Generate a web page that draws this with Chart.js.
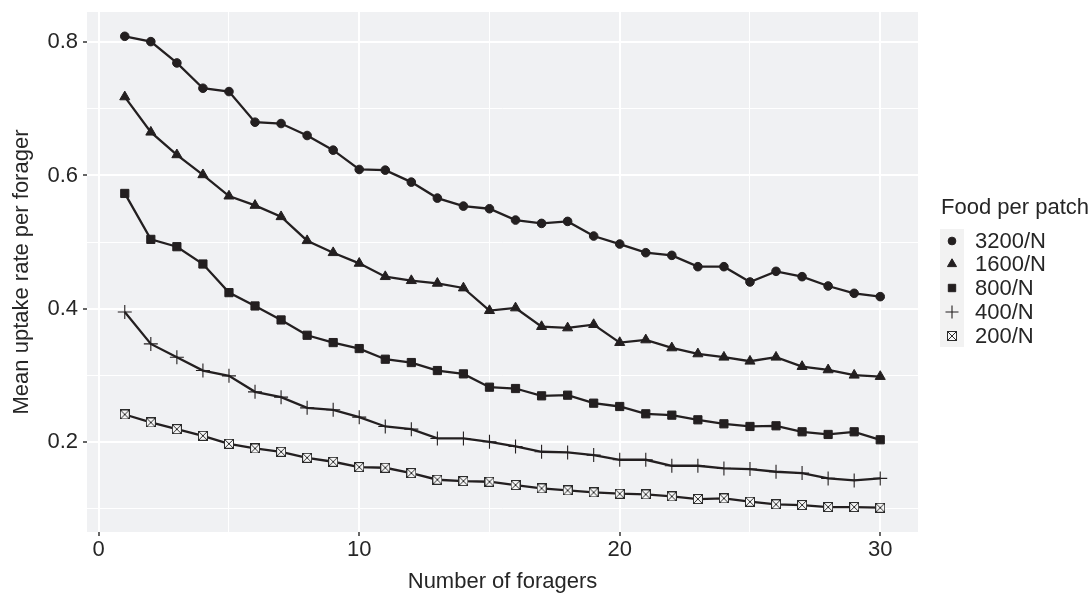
<!DOCTYPE html>
<html>
<head>
<meta charset="utf-8">
<script src="https://cdn.jsdelivr.net/npm/chart.js@4/dist/chart.umd.min.js"></script>
<style>
  html, body { margin: 0; padding: 0; background: #fff; }
  #wrap { width: 1089px; height: 595px; }
</style>
</head>
<body>
<div id="wrap"><canvas id="c" width="1089" height="595"></canvas></div>
<script>
// data
const foragers = [1, 2, 3, 4, 5, 6, 7, 8, 9, 10, 11, 12, 13, 14, 15,
  16, 17, 18, 19, 20, 21, 22, 23, 24, 25, 26, 27, 28, 29, 30];
const food3200 = [0.809, 0.801, 0.769, 0.731, 0.726, 0.680, 0.678, 0.660, 0.638, 0.609,
  0.608, 0.590, 0.566, 0.554, 0.550, 0.533, 0.528, 0.531, 0.509, 0.497,
  0.484, 0.480, 0.463, 0.463, 0.440, 0.456, 0.448, 0.434, 0.423, 0.418];
const food1600 = [0.718, 0.665, 0.631, 0.601, 0.569, 0.555, 0.538, 0.502, 0.484, 0.468,
  0.448, 0.442, 0.438, 0.431, 0.397, 0.401, 0.373, 0.371, 0.376, 0.349,
  0.353, 0.341, 0.332, 0.327, 0.321, 0.327, 0.313, 0.308, 0.300, 0.298];
const food800 = [0.573, 0.504, 0.493, 0.467, 0.424, 0.404, 0.383, 0.360, 0.349, 0.340,
  0.324, 0.319, 0.307, 0.302, 0.282, 0.280, 0.269, 0.270, 0.258, 0.253,
  0.242, 0.240, 0.233, 0.227, 0.223, 0.224, 0.215, 0.211, 0.215, 0.203];
const food400 = [0.395, 0.347, 0.327, 0.307, 0.299, 0.275, 0.267, 0.251, 0.248, 0.237,
  0.223, 0.219, 0.205, 0.205, 0.200, 0.193, 0.185, 0.184, 0.180, 0.173,
  0.173, 0.164, 0.164, 0.160, 0.159, 0.155, 0.153, 0.145, 0.142, 0.145];
const food200 = [0.241, 0.229, 0.219, 0.209, 0.197, 0.190, 0.185, 0.176, 0.170, 0.162,
  0.161, 0.153, 0.143, 0.141, 0.140, 0.135, 0.130, 0.127, 0.124, 0.122,
  0.121, 0.118, 0.114, 0.115, 0.110, 0.106, 0.105, 0.102, 0.102, 0.101];
const seriesLabels = ["3200/N", "1600/N", "800/N", "400/N", "200/N"];

const xTicks = [0, 5, 10, 15, 20, 25, 30];
const xMajor = [0, 10, 20, 30];
const yTicks = [0.1, 0.2, 0.3, 0.4, 0.5, 0.6, 0.7, 0.8];
const yMajor = [0.2, 0.4, 0.6, 0.8];

const ink = "#231f20", textCol = "#262626", panel = "#f0f1f3";
const FONT = "'Liberation Sans', Arial, sans-serif";

// ggplot shape 7: square with an X
function boxCross(size) {
  const c = document.createElement("canvas");
  c.width = c.height = size;
  const g = c.getContext("2d");
  const a = 0.5, b = size - 0.5;
  g.fillStyle = "#f7f7f7";
  g.fillRect(a, a, b - a, b - a);
  g.strokeStyle = "#2b2b2b";
  g.lineWidth = 1;
  g.strokeRect(a, a, b - a, b - a);
  g.beginPath();
  g.moveTo(a, a); g.lineTo(b, b);
  g.moveTo(b, a); g.lineTo(a, b);
  g.stroke();
  return c;
}
const boxImg = boxCross(10);

const styles = [
  { pointStyle: "circle", radius: 4.3, borderWidth: 1 },
  { pointStyle: "triangle", radius: 5.8, borderWidth: 1 },
  { pointStyle: "rect", radius: 5.8, borderWidth: 1 },
  { pointStyle: "cross", radius: 7, borderWidth: 1.1 },
  { pointStyle: boxImg, radius: 5, borderWidth: 1 },
];
const allSeries = [food3200, food1600, food800, food400, food200];

const datasets = allSeries.map((vals, i) => ({
  label: seriesLabels[i],
  data: foragers.map((f, j) => ({ x: f, y: vals[j] })),
  borderColor: ink,
  borderWidth: 2.3,
  backgroundColor: ink,
  pointStyle: styles[i].pointStyle,
  pointRadius: styles[i].radius,
  pointBorderWidth: styles[i].borderWidth,
  pointBackgroundColor: ink,
  pointBorderColor: ink,
  tension: 0,
}));

const isMajor = (list, v) => list.some((m) => Math.abs(m - v) < 1e-6);

const panelBg = {
  id: "panelBg",
  beforeDraw(chart) {
    const { ctx, chartArea: a } = chart;
    ctx.save();
    ctx.fillStyle = panel;
    ctx.fillRect(a.left, a.top, a.right - a.left, a.bottom - a.top);
    ctx.restore();
  },
};

// legend on the right, ggplot style
const sideLegend = {
  id: "sideLegend",
  afterDraw(chart) {
    const ctx = chart.ctx;
    ctx.save();
    ctx.fillStyle = textCol;
    ctx.font = "22px " + FONT;
    ctx.textBaseline = "middle";
    ctx.textAlign = "left";
    ctx.fillText("Food per patch", 941, 208);
    ctx.fillStyle = "#f2f2f2";
    ctx.fillRect(940, 229, 24, 118);
    const ys = [241, 264, 288, 312, 336];
    seriesLabels.forEach((lab, i) => {
      const st = styles[i];
      ctx.fillStyle = ink;
      ctx.strokeStyle = ink;
      ctx.lineWidth = st.borderWidth;
      Chart.helpers.drawPoint(ctx, {
        pointStyle: st.pointStyle,
        radius: i === 3 ? 6.5 : st.radius * 0.9,
        rotation: 0,
        borderWidth: st.borderWidth,
      }, 952, ys[i]);
      ctx.fillStyle = textCol;
      ctx.font = "22px " + FONT;
      ctx.fillText(lab, 975, ys[i] + 1);
    });
    ctx.restore();
  },
};

new Chart(document.getElementById("c"), {
  type: "line",
  data: { datasets },
  plugins: [panelBg, sideLegend],
  options: {
    responsive: false,
    animation: false,
    events: [],
    layout: { padding: { top: 12, right: 171, left: 0, bottom: 0 } },
    plugins: { legend: { display: false }, tooltip: { enabled: false } },
    scales: {
      x: {
        type: "linear",
        min: -0.45,
        max: 31.45,
        afterBuildTicks: (s) => { s.ticks = xTicks.map((v) => ({ value: v })); },
        afterFit: (s) => { s.height = 63; s.paddingLeft = 0; s.paddingRight = 0; },
        border: { display: false },
        grid: {
          color: "#ffffff",
          lineWidth: (c) => (isMajor(xMajor, c.tick.value) ? 2 : 1),
          tickColor: (c) => (isMajor(xMajor, c.tick.value) ? "#333333" : "rgba(0,0,0,0)"),
          tickLength: 4,
          tickWidth: 1.5,
        },
        ticks: {
          autoSkip: false,
          maxRotation: 0,
          padding: 1,
          color: textCol,
          font: { family: FONT, size: 22 },
          callback: (v) => (isMajor(xMajor, v) ? String(v) : ""),
        },
        title: {
          display: true,
          text: "Number of foragers",
          color: textCol,
          font: { family: FONT, size: 22 },
          padding: { top: 0, bottom: 0 },
        },
      },
      y: {
        type: "linear",
        min: 0.0645,
        max: 0.8455,
        afterBuildTicks: (s) => { s.ticks = yTicks.map((v) => ({ value: v })); },
        afterFit: (s) => { s.width = 87; s.paddingTop = 0; s.paddingBottom = 0; },
        border: { display: false },
        grid: {
          color: "#ffffff",
          lineWidth: (c) => (isMajor(yMajor, c.tick.value) ? 2 : 1),
          tickColor: (c) => (isMajor(yMajor, c.tick.value) ? "#333333" : "rgba(0,0,0,0)"),
          tickLength: 4,
          tickWidth: 1.5,
        },
        ticks: {
          autoSkip: false,
          padding: 5,
          color: textCol,
          font: { family: FONT, size: 22 },
          callback: (v) => (isMajor(yMajor, v) ? v.toFixed(1) : ""),
        },
        title: {
          display: true,
          text: "Mean uptake rate per forager",
          color: textCol,
          font: { family: FONT, size: 22 },
          padding: { top: 9, bottom: 0 },
        },
      },
    },
  },
});
</script>
</body>
</html>
